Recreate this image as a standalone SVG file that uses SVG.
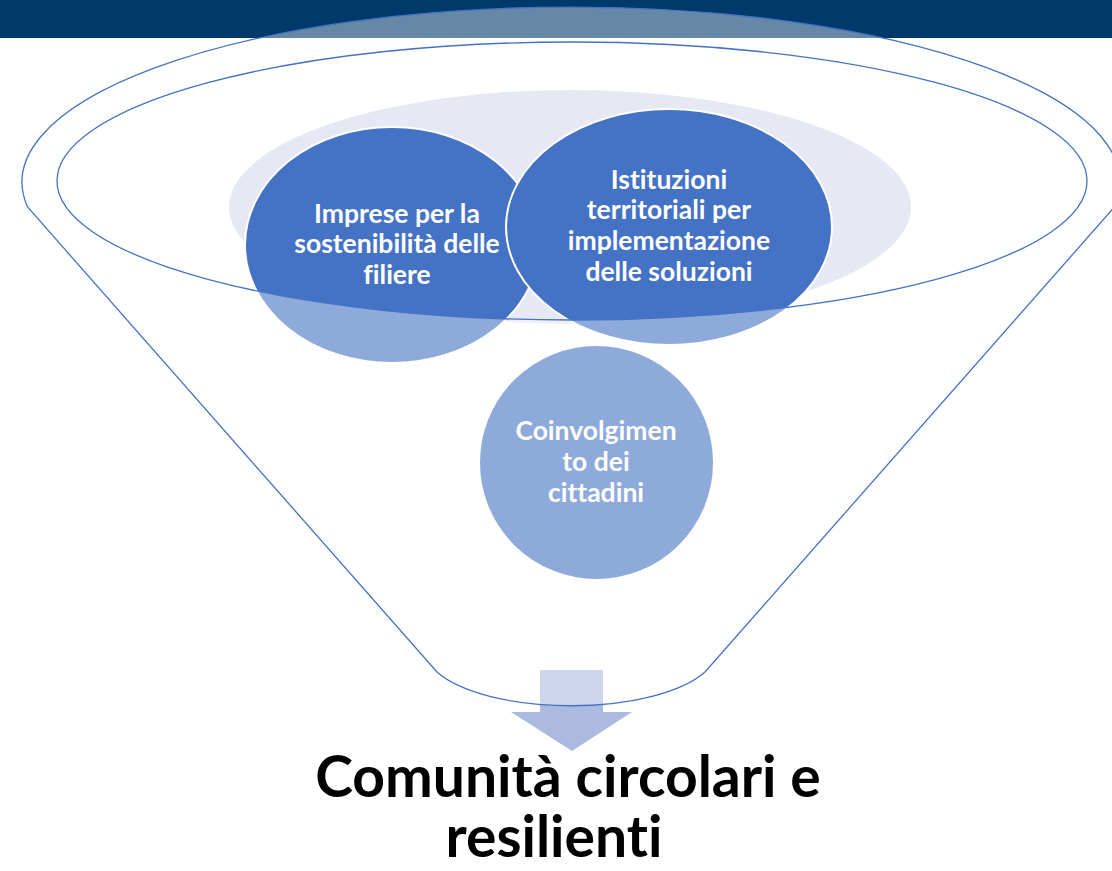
<svg xmlns="http://www.w3.org/2000/svg" width="1112" height="871" viewBox="0 0 1112 871">
  <style>
    .node { fill: #4472C4; stroke: #FFFFFF; stroke-width: 2; }
    .lbl { font-family: Lato, "Liberation Sans", sans-serif; font-weight: bold; font-size: 26.5px; fill: #FFFFFF; text-anchor: middle; font-variant-ligatures: none; }
    .title { font-family: Lato, "Liberation Sans", sans-serif; font-weight: bold; font-size: 57px; fill: #000000; text-anchor: middle; font-variant-ligatures: none; }
    .funnel { fill: #FFFFFF; fill-opacity: 0.4; fill-rule: evenodd; stroke: #4472C4; stroke-width: 1.3; }
  </style>
  <rect width="1112" height="871" fill="#FFFFFF"/>
  <g id="header-bar">
    <rect x="0" y="0" width="1112" height="38" fill="#003A6B"/>
  </g>
  <g id="backdrop">
    <ellipse cx="570" cy="207" rx="341" ry="117" fill="#E6E8F3"/>
  </g>
  <g id="node-imprese">
    <ellipse class="node" cx="392" cy="245" rx="147" ry="118"/>
    <text class="lbl" x="397" y="223">Imprese per la</text>
    <text class="lbl" x="397" y="253">sostenibilità delle</text>
    <text class="lbl" x="397" y="284">filiere</text>
  </g>
  <g id="node-istituzioni">
    <ellipse class="node" cx="669" cy="227" rx="163" ry="118"/>
    <text class="lbl" x="669" y="189">Istituzioni</text>
    <text class="lbl" x="669" y="219">territoriali per</text>
    <text class="lbl" x="669" y="250">implementazione</text>
    <text class="lbl" x="669" y="281">delle soluzioni</text>
  </g>
  <g id="node-coinvolgimento">
    <circle class="node" cx="596.5" cy="462.5" r="117.5"/>
    <text class="lbl" x="596" y="440">Coinvolgimen</text>
    <text class="lbl" x="596" y="471">to dei</text>
    <text class="lbl" x="596" y="502">cittadini</text>
  </g>
  <g id="connectors">
    <polygon points="540,670 603,670 603,712 632,712 572,751 511,712 540,712" fill="#ADBADF"/>
  </g>
  <g id="funnel">
    <path class="funnel" d="M27.6,207 A549,175 0 1 1 1114.4,207 L705,672 A146,56 0 0 1 437,672 Z M57,181 A515,139 0 1 0 1087,181 A515,139 0 1 0 57,181 Z"/>
  </g>
  <g id="result">
    <text class="title" x="568" y="797">Comunità circolari e</text>
    <text class="title" x="554" y="857">resilienti</text>
  </g>
</svg>
